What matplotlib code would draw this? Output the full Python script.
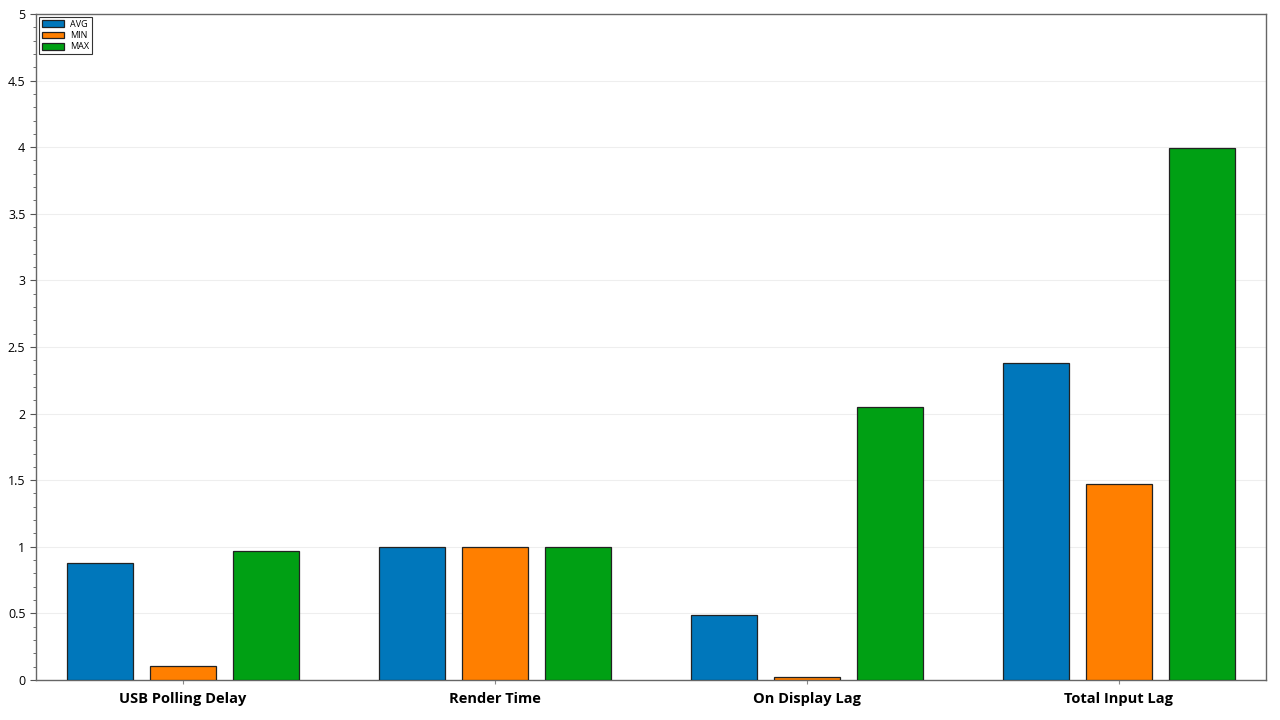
import numpy as np
import matplotlib.pyplot as plt
from matplotlib.ticker import MultipleLocator, FormatStrFormatter

categories = ["USB Polling Delay", "Render Time", "On Display Lag", "Total Input Lag"]
avg_vals = [0.88, 1.0, 0.49, 2.38]
min_vals = [0.105, 1.0, 0.02, 1.47]
max_vals = [0.97, 1.0, 2.05, 3.99]
series = ["AVG", "MIN", "MAX"]
colors = ["#0077BB", "#FF7F00", "#00A014"]

plt.rcParams['font.family'] = ['Open Sans', 'DejaVu Sans']

fig = plt.figure(figsize=(12.8, 7.2), dpi=100)
ax = fig.add_axes([0.028, 0.0556, 0.961, 0.925])

x = np.arange(len(categories))
w = 0.212
step = 0.266
for i, (vals, name, c) in enumerate(zip([avg_vals, min_vals, max_vals], series, colors)):
    ax.bar(x + (i - 1) * step, vals, width=w, color=c, edgecolor="#222222",
           linewidth=0.9, label=name, zorder=3)

ax.set_xlim(-0.471, 3.471)
ax.set_ylim(0, 5)
ax.set_xticks(x)
ax.set_xticklabels(categories, fontsize=10.5, fontweight="bold")
ax.yaxis.set_major_locator(MultipleLocator(0.5))
ax.yaxis.set_minor_locator(MultipleLocator(0.1))
ax.yaxis.set_major_formatter(FormatStrFormatter("%g"))
ax.tick_params(axis="y", labelsize=9, length=4, color="#555555")
ax.tick_params(axis="y", which="minor", length=2, color="#555555")
ax.tick_params(axis="x", length=3, color="#888888", pad=6)
ax.grid(axis="y", color="#eeeeee", linewidth=0.8, zorder=0)
for s in ax.spines.values():
    s.set_color("#666666")
    s.set_linewidth(1.0)

leg = ax.legend(loc="upper left", fontsize=6.5, frameon=True, fancybox=False,
                edgecolor="black", handlelength=2.5, handleheight=0.8,
                borderpad=0.3, labelspacing=0.25, handletextpad=0.6,
                borderaxespad=0.35)
leg.get_frame().set_linewidth(0.8)

fig.savefig("out.png", dpi=100)
